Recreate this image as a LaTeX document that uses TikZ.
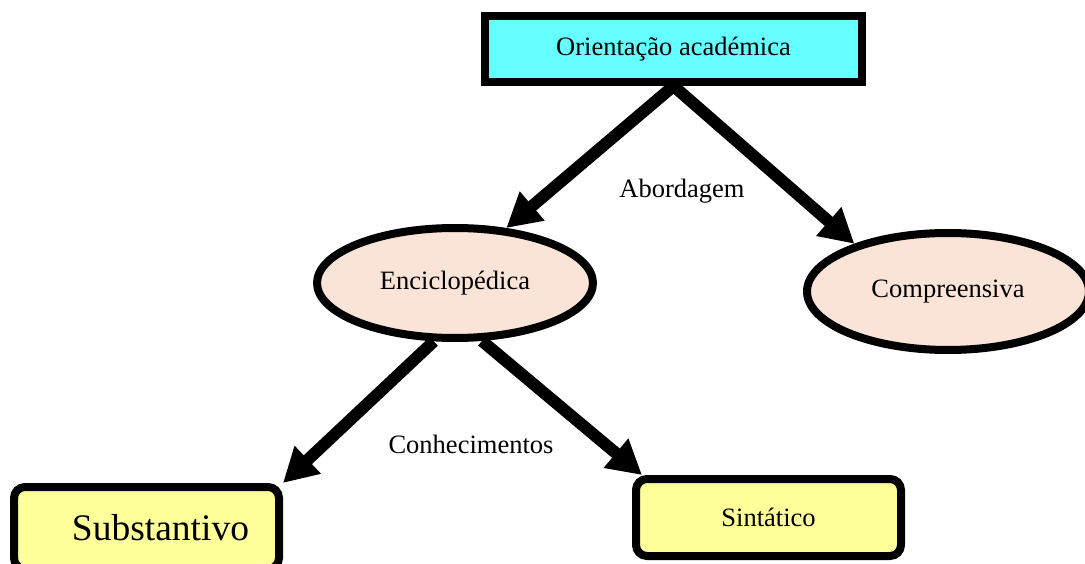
\documentclass[tikz,border=0pt]{standalone}
\usepackage{fontspec}
\setmainfont{Liberation Serif}
\usetikzlibrary{arrows.meta,shapes.geometric,calc}
\definecolor{topcyan}{HTML}{66FFFF}
\definecolor{peach}{HTML}{FAE4D7}
\definecolor{paleyellow}{HTML}{FFFF99}
\begin{document}
\begin{tikzpicture}[x=1pt,y=-1pt,
  base/.style={font=\fontsize{26.5}{30}\selectfont, line width=8pt, draw=black, inner sep=0pt},
  topbox/.style={base, rectangle, fill=topcyan, minimum width=377pt, minimum height=66pt},
  oval/.style={base, ellipse, fill=peach},
  leafbox/.style={base, rectangle, rounded corners=11pt, fill=paleyellow, minimum width=265pt},
  link/.style={line width=12pt, -{Triangle[length=34pt,width=36pt]}},
  tag/.style={font=\fontsize{26.5}{30}\selectfont, inner sep=0pt}]
\useasboundingbox (0,0) rectangle (1085,564);
\clip (0,0) rectangle (1085,564);

% nodes
\node[topbox] (top) at (673.5,49) {Orientação académica};
\node[oval, minimum width=276pt, minimum height=110pt] (enc) at (455,283) {Enciclopédica};
\node[oval, minimum width=282pt, minimum height=117pt] (comp) at (948,291.5) {Compreensiva};
\node[leafbox, minimum height=82pt, font=\fontsize{37.5}{42}\selectfont] (sub) at (146.5,528) {\hspace*{28pt}Substantivo};
\node[leafbox, minimum height=77pt] (sin) at (768.5,517.5) {Sintático};

% connector labels
\node[tag] (abord) at (682,191) {Abordagem};
\node[tag] (conh) at (471,444) {Conhecimentos};

% connectors
\draw[link] (top.south) -- (enc.47);
\draw[link] (top.south) -- (comp.153);
\draw[link] (enc.250) -- (sub.north east);
\draw[link] (enc.295) -- ($(sin.north west)+(10,0)$);
\end{tikzpicture}
\end{document}
